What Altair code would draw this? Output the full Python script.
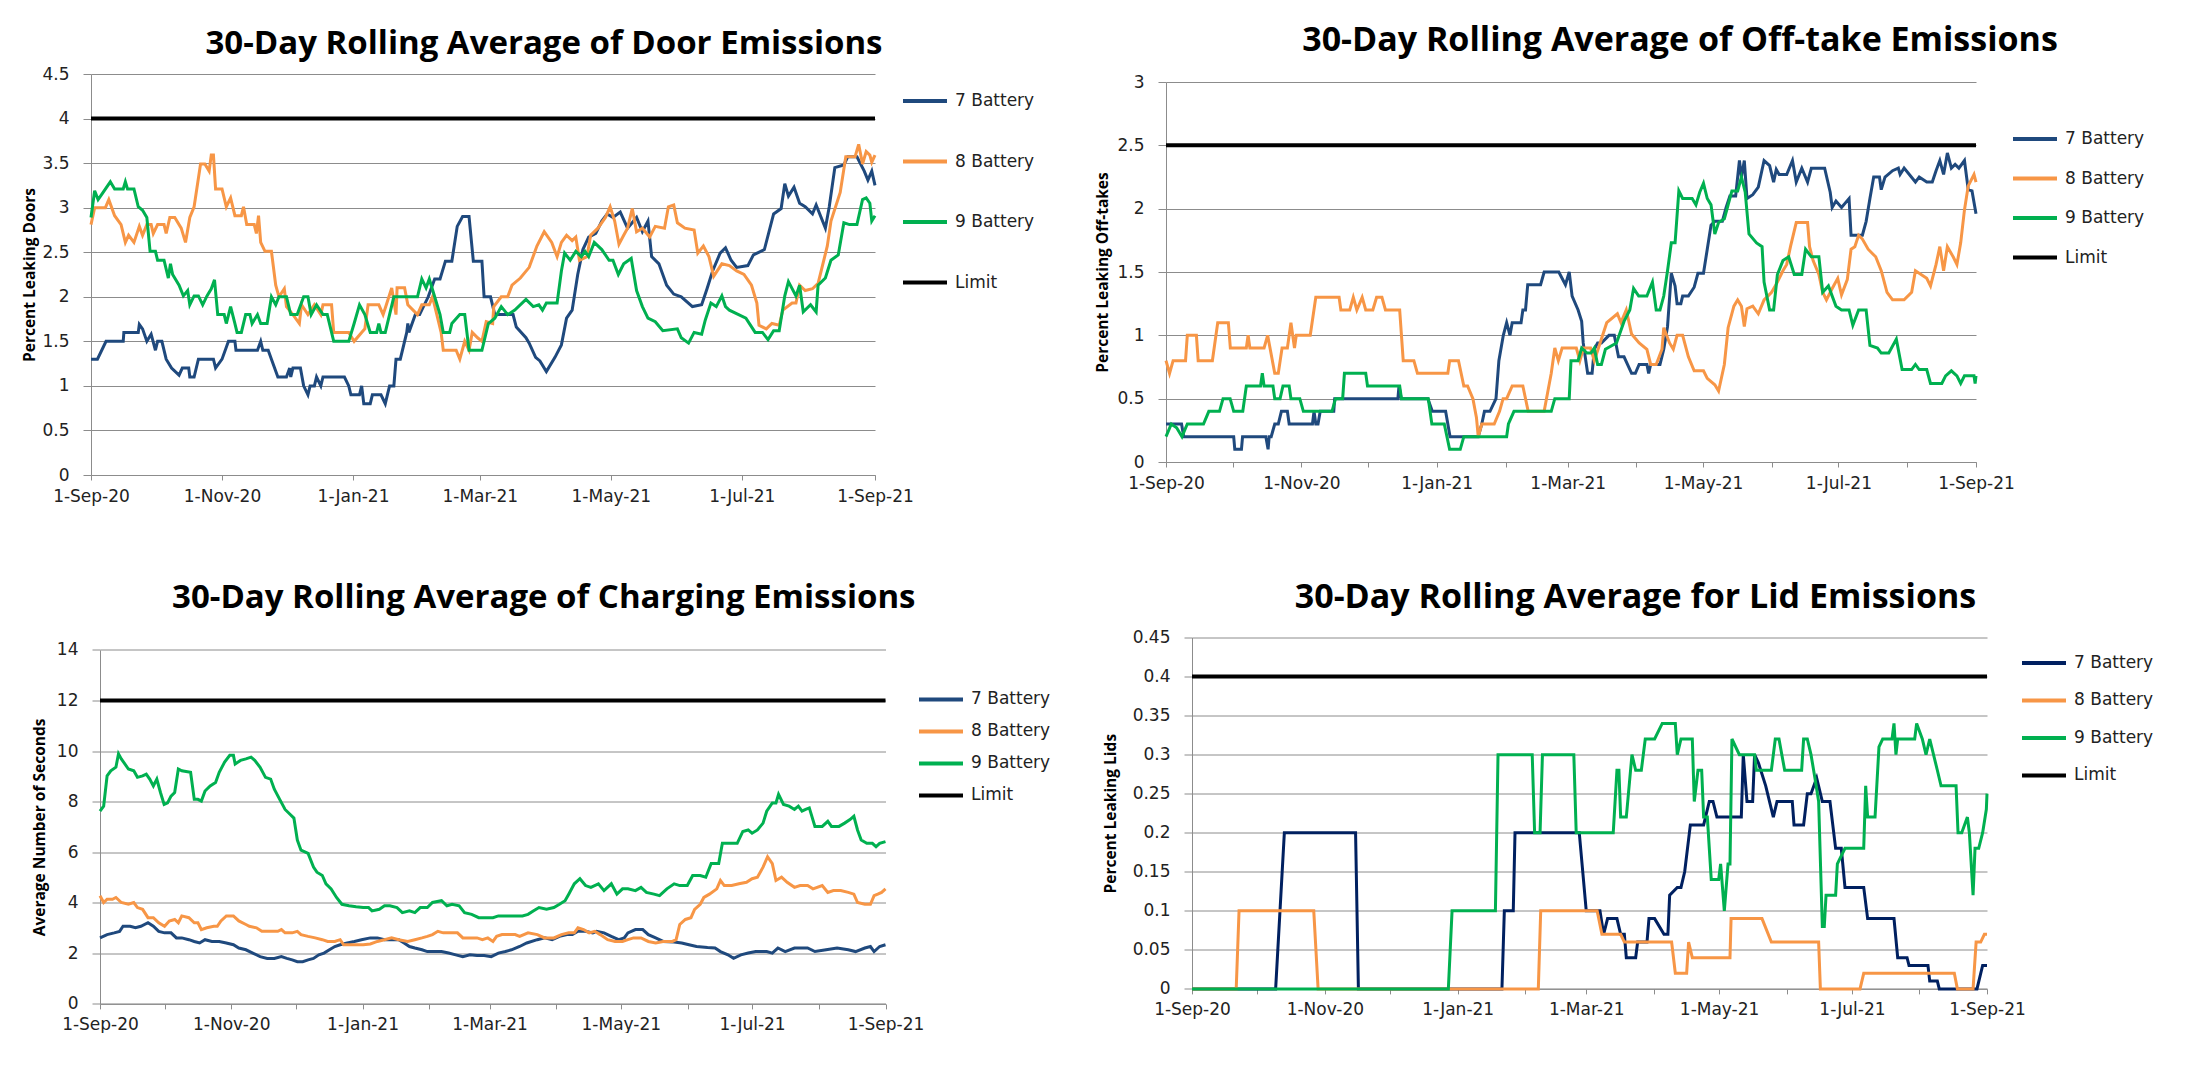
import altair as alt
import pandas as pd

# ---------------- data (day offset from 1-Sep-20, value) ----------------
SERIES = ["7 Battery", "8 Battery", "9 Battery", "Limit"]

DOOR_7 = [(0,1.3),(3,1.3),(7,1.5),(15,1.5),(15.3,1.6),(22,1.6),(22.5,1.69),(24,1.64),(26,1.5),(28,1.58),(30,1.4),(31,1.5),(33,1.5),(35,1.3),(37.5,1.2),(41,1.12),(42.5,1.2),(45.5,1.2),(46,1.1),(48,1.1),(50,1.3),(57,1.3),(58,1.2),(61,1.3),(64,1.5),(67,1.5),(67.5,1.4),(77.5,1.4),(79,1.5),(80,1.4),(82.5,1.4),(84,1.3),(87,1.1),(91,1.1),(92.5,1.2),(93,1.1),(94,1.2),(97.5,1.2),(99,1.0),(101,0.9),(102,1.0),(104,1.0),(105,1.1),(107,1.0),(108,1.1),(118,1.1),(120,1.0),(121,0.9),(125,0.9),(126,1.0),(127,0.8),(130,0.8),(131,0.9),(135,0.9),(137,0.8),(139,1.0),(141,1.0),(142,1.3),(144,1.3),(147,1.6),(147.5,1.7),(148,1.6),(151,1.8),(153,1.8),(157,2.0),(160,2.2),(162.5,2.2),(165,2.4),(168,2.4),(170.5,2.79),(173,2.9),(176,2.9),(178,2.4),(182,2.4),(183,2.0),(186,2.0),(188,1.8),(194,1.8),(196.5,1.8),(198,1.66),(202.5,1.54),(204,1.48),(207,1.32),(209,1.28),(212,1.16),(216,1.32),(219,1.46),(221.4,1.76),(224,1.85),(226.6,2.25),(229,2.53),(231.7,2.67),(235,2.71),(237.8,2.85),(240.3,2.93),(243,2.89),(246.4,2.95),(249.8,2.77),(254,2.89),(256.7,2.73),(259.3,2.85),(261,2.45),(264.4,2.37),(268,2.13),(271.3,2.03),(274.8,2.0),(280,1.89),(284.3,1.91),(286.8,2.09),(289.4,2.29),(292.9,2.49),(295.4,2.55),(298,2.41),(300.6,2.33),(305.8,2.35),(308.4,2.47),(313.5,2.53),(317.8,2.93),(321.3,2.99),(323,3.27),(324.7,3.13),(327.3,3.23),(329.9,3.05),(332.5,3.01),(335.9,2.93),(337.6,3.03),(341.9,2.77),(343.7,3.01),(346.3,3.45),(350.5,3.48),(352.3,3.57),(356.6,3.57),(360,3.41),(361.7,3.31),(363.5,3.41),(365,3.25)]
DOOR_8 = [(0,2.81),(1.7,3.0),(6.7,3.0),(8.3,3.09),(11,2.91),(14,2.81),(16,2.61),(17.5,2.69),(20,2.61),(22.5,2.79),(24,2.69),(26,2.81),(28,2.81),(29,2.71),(31,2.81),(34,2.81),(35,2.71),(36.7,2.89),(39,2.89),(42,2.77),(44,2.61),(46,2.89),(48,3.01),(51,3.49),(53,3.49),(55,3.41),(56,3.59),(57,3.59),(58,3.21),(61,3.21),(63,3.01),(65,3.11),(67,2.91),(70,2.91),(71,3.01),(72.5,2.81),(76,2.81),(77,2.71),(78,2.91),(79,2.61),(81,2.51),(84,2.51),(86,2.13),(87.5,2.0),(90,2.09),(91,1.89),(94,1.8),(97,1.7),(98,1.91),(101,1.8),(104,1.91),(107,1.8),(108,1.91),(112,1.91),(113,1.6),(120,1.6),(122.5,1.5),(126,1.6),(127.5,1.64),(129,1.91),(134,1.91),(136,1.8),(137.5,1.91),(140,2.1),(142,1.8),(142.5,2.1),(146,2.1),(147.5,1.91),(152,1.8),(154,1.91),(157.5,1.91),(159,2.0),(161,1.8),(163,1.6),(164,1.4),(170,1.4),(171.7,1.3),(174,1.5),(176,1.4),(177.5,1.6),(180,1.54),(182,1.5),(184,1.72),(187,1.7),(187.5,1.89),(191,2.0),(194,2.0),(196,2.13),(199.9,2.21),(204,2.33),(207.6,2.57),(211,2.73),(214.5,2.61),(217,2.45),(219,2.61),(221.4,2.69),(224,2.63),(225.7,2.67),(227.4,2.41),(230.9,2.45),(232.6,2.69),(236,2.77),(239.5,2.89),(241.7,3.01),(243.8,2.85),(245.8,2.59),(248,2.69),(249.8,2.77),(252,2.99),(254,2.73),(256.7,2.77),(260.1,2.67),(262.7,2.79),(267,2.77),(268.8,3.01),(271.3,3.03),(273,2.83),(276.5,2.77),(280.8,2.75),(282.5,2.49),(285.1,2.57),(287.7,2.45),(289.9,2.23),(293.7,2.37),(297.2,2.35),(300.6,2.29),(304,2.25),(307.5,2.13),(310,1.93),(311,1.68),(314.4,1.64),(317,1.7),(320.4,1.68),(322.1,1.85),(326.4,1.93),(328.2,1.93),(329.9,2.13),(332.5,2.07),(335.9,2.09),(338.5,2.15),(342.8,2.57),(344.5,2.85),(348.8,3.17),(351.4,3.57),(355.7,3.57),(357.4,3.71),(359.2,3.49),(360.9,3.63),(362.6,3.59),(363.5,3.51),(365,3.59)]
DOOR_9 = [(0,2.89),(1.7,3.19),(3.3,3.09),(5,3.15),(9,3.29),(11,3.21),(15,3.21),(16,3.29),(17,3.21),(20,3.21),(22,3.01),(24,2.97),(26,2.89),(27.5,2.51),(30,2.51),(31,2.41),(34,2.41),(36,2.21),(37,2.37),(38,2.25),(41,2.13),(43,2.01),(45,2.07),(46,1.91),(48,2.01),(50,2.01),(52,1.91),(54,2.01),(56,2.09),(57.5,2.19),(59,1.8),(62,1.8),(63,1.7),(65,1.89),(67,1.7),(68,1.6),(70,1.6),(72,1.8),(74,1.8),(75,1.7),(77.5,1.8),(79,1.7),(82,1.7),(84,2.0),(86,1.91),(87.5,2.0),(91,2.0),(93,1.8),(96,1.8),(99,2.0),(101,2.0),(102.5,1.8),(105,1.91),(108,1.8),(110,1.8),(113,1.5),(120,1.5),(122.5,1.7),(125,1.91),(127.5,1.8),(130,1.6),(133,1.6),(134,1.7),(135,1.6),(137,1.6),(139,1.8),(141,2.0),(152,2.0),(154,2.2),(156,2.1),(157.5,2.2),(160,2.0),(162.5,1.8),(164,1.6),(167,1.6),(168,1.7),(171.7,1.8),(174,1.8),(176,1.4),(182,1.4),(185,1.7),(188,1.76),(191,1.89),(194,1.8),(197.3,1.85),(202.5,1.97),(205.9,1.89),(208.5,1.91),(210.2,1.85),(212,1.93),(217,1.93),(219,2.29),(220.5,2.49),(223.1,2.41),(225.7,2.51),(228.3,2.45),(230,2.51),(231.7,2.45),(234.3,2.61),(237.8,2.53),(241.2,2.41),(243,2.41),(245.5,2.25),(248,2.37),(251.5,2.43),(254,2.07),(256.7,1.89),(259.3,1.76),(262.7,1.72),(266.2,1.62),(273,1.64),(274.8,1.54),(278.2,1.48),(280.8,1.6),(284.3,1.58),(286,1.74),(288.6,1.93),(291.1,1.89),(293.7,2.01),(295.4,1.89),(297.2,1.85),(301.5,1.8),(304.9,1.76),(309.2,1.6),(312.6,1.6),(315.2,1.52),(317.8,1.62),(320.4,1.62),(323,2.01),(324.7,2.17),(328.2,2.01),(329.9,2.13),(331.6,1.83),(335,1.91),(337.6,1.83),(338.5,2.13),(341.9,2.21),(344.5,2.41),(347.9,2.47),(350.5,2.83),(353.1,2.81),(356.6,2.81),(359.2,3.09),(360.9,3.11),(362.6,3.05),(363.5,2.85),(365,2.91)]
DOOR_LIMIT = 4.0

OFF_7 = [(0,0.3),(7,0.3),(8,0.2),(30.5,0.2),(31,0.1),(34,0.1),(34.5,0.2),(45,0.2),(46,0.1),(46.5,0.2),(47.4,0.2),(49,0.3),(50.6,0.3),(52,0.4),(54.7,0.4),(55.5,0.3),(66,0.3),(66.7,0.4),(67.5,0.3),(68.5,0.3),(69.5,0.4),(75.6,0.4),(76,0.5),(104.5,0.5),(105,0.6),(106,0.5),(118,0.5),(120,0.4),(126,0.4),(128,0.2),(140.7,0.2),(142.3,0.3),(143.5,0.4),(146,0.4),(148.7,0.5),(150,0.8),(152,1.0),(153.5,1.1),(155,1.0),(156,1.1),(160,1.1),(160.8,1.2),(162,1.2),(163,1.4),(168.8,1.4),(170.4,1.5),(177,1.5),(180,1.4),(181.7,1.5),(183,1.31),(185.7,1.2),(187.3,1.11),(188,0.94),(190,0.7),(192,0.7),(193,0.89),(194.5,0.94),(196.2,0.94),(199.6,1.0),(202,1.0),(203.9,0.83),(206.4,0.83),(209.8,0.7),(211.5,0.7),(213.2,0.77),(216.7,0.77),(217.5,0.7),(218.4,0.77),(222.6,0.77),(224.3,0.89),(226,1.07),(227.7,1.49),(229.4,1.39),(230.3,1.25),(232,1.25),(232.8,1.31),(235.4,1.31),(238,1.38),(239.7,1.49),(242.2,1.49),(243.9,1.68),(245.6,1.87),(247.3,1.9),(250.7,1.9),(252.4,2.01),(254.1,2.1),(256.7,2.1),(258.4,2.38),(259.3,2.25),(260.6,2.38),(261.8,2.08),(264.4,2.11),(266.9,2.17),(269.5,2.38),(272,2.34),(273.8,2.21),(275,2.31),(276.3,2.27),(279.7,2.27),(282.3,2.38),(284,2.21),(286.5,2.32),(289.1,2.21),(290.8,2.32),(296.8,2.32),(299.3,2.13),(300.2,2.01),(301.9,2.06),(304.4,2.01),(307.8,2.08),(308.7,1.79),(313.8,1.79),(315.5,1.9),(317.2,2.08),(318.9,2.25),(321.5,2.25),(322.3,2.15),(324,2.25),(327.4,2.3),(330,2.32),(330.8,2.27),(332.6,2.32),(337.7,2.21),(339.4,2.25),(342.8,2.21),(345.3,2.21),(347,2.3),(348.7,2.38),(350.4,2.27),(352.1,2.44),(353.9,2.32),(355.6,2.35),(357.3,2.32),(359.8,2.38),(361.5,2.15),(363.2,2.14),(365,1.96)]
OFF_8 = [(0,0.8),(1.6,0.7),(3.2,0.8),(8.8,0.8),(9.6,1.0),(13.7,1.0),(14.5,0.8),(20.9,0.8),(23.3,1.1),(28.1,1.1),(29,0.9),(36.2,0.9),(37,1.0),(37.8,0.9),(44.2,0.9),(45.8,1.0),(49,0.7),(50.6,0.7),(52.3,0.9),(54.7,0.9),(56.3,1.1),(57.9,0.9),(58.7,1.0),(65,1.0),(67.5,1.3),(78,1.3),(78.8,1.2),(82.8,1.2),(84.4,1.3),(86,1.2),(88.4,1.3),(90,1.2),(93.2,1.2),(94.9,1.3),(97.3,1.3),(98.9,1.2),(105.3,1.2),(106.9,0.8),(111.7,0.8),(113.3,0.7),(127,0.7),(127.8,0.8),(131.8,0.8),(134.2,0.6),(135.9,0.6),(138.3,0.5),(139.9,0.35),(140.7,0.2),(142.3,0.3),(147.9,0.3),(150.3,0.4),(151.9,0.5),(153.5,0.5),(156,0.6),(160.8,0.6),(163.2,0.4),(170.4,0.4),(173.6,0.7),(175.2,0.9),(176.8,0.8),(178.5,0.9),(184.9,0.9),(186.5,0.8),(188.1,0.9),(191.3,0.9),(193,0.8),(198.6,1.1),(203.4,1.17),(205,1.1),(207.4,1.2),(209.8,1.01),(213.2,0.94),(216.7,0.89),(218.4,0.77),(220.9,0.77),(223.5,0.89),(224.3,1.06),(226.9,0.94),(228.6,0.89),(230.3,1.0),(232.8,1.0),(235.4,0.83),(238,0.72),(242.2,0.72),(243.9,0.66),(247.3,0.61),(249,0.56),(251.6,0.77),(253.3,1.06),(255.9,1.23),(257.6,1.28),(259.3,1.23),(260.6,1.07),(261.8,1.21),(264.4,1.23),(266.9,1.17),(269.5,1.28),(272.9,1.34),(275.5,1.42),(278,1.51),(279.7,1.56),(281.4,1.7),(284,1.89),(289.1,1.89),(290,1.7),(291.6,1.59),(294.2,1.48),(295.9,1.34),(297.6,1.28),(300.2,1.37),(302.7,1.45),(304.4,1.32),(307,1.44),(308.7,1.68),(310.4,1.7),(312.1,1.79),(313.8,1.76),(316.4,1.68),(319.8,1.62),(322.3,1.51),(324.9,1.34),(327.4,1.28),(332.6,1.28),(336,1.34),(337.7,1.51),(342.8,1.45),(344.5,1.39),(347,1.56),(348.7,1.7),(350.4,1.51),(352.1,1.7),(354.7,1.62),(356.4,1.56),(358.1,1.73),(359.8,1.99),(361.5,2.18),(364.1,2.27),(365,2.21)]
OFF_9 = [(0,0.2),(2.4,0.3),(4.8,0.27),(7.2,0.2),(9.6,0.3),(16.9,0.3),(19.3,0.4),(24.1,0.4),(25.7,0.5),(28.9,0.5),(30.5,0.4),(34.6,0.4),(36.2,0.6),(42.6,0.6),(43.4,0.7),(44.2,0.6),(48.2,0.6),(49,0.5),(51.4,0.5),(52.7,0.6),(55.5,0.6),(56.3,0.5),(60.3,0.5),(61.9,0.4),(74.8,0.4),(76.4,0.5),(79.6,0.5),(80.4,0.7),(90,0.7),(90.8,0.6),(105.3,0.6),(106.1,0.5),(118.2,0.5),(119.8,0.3),(125.4,0.3),(127.8,0.1),(132.6,0.1),(134.2,0.2),(153.5,0.2),(154.3,0.3),(156.8,0.4),(173.6,0.4),(175.2,0.5),(181.7,0.5),(182.5,0.8),(185.7,0.8),(187.3,0.9),(189.7,0.86),(191.5,0.86),(193,0.9),(194.5,0.77),(196.2,0.77),(198,0.89),(203,0.94),(206.4,1.11),(209,1.2),(210.7,1.37),(213,1.31),(216.7,1.31),(219.2,1.42),(220.9,1.2),(222.6,1.2),(224.3,1.31),(226,1.51),(227.7,1.73),(229.4,1.73),(231.1,2.14),(232.8,2.08),(237.1,2.08),(238.8,2.03),(240.5,2.13),(242.2,2.2),(243.9,2.08),(245.6,2.03),(247.3,1.8),(249,1.89),(251.6,1.92),(253.3,2.03),(255,2.14),(257.6,2.14),(259.3,2.25),(261,2.13),(262.7,1.8),(266.1,1.73),(268.6,1.7),(269.5,1.42),(272,1.2),(273.8,1.2),(275.5,1.48),(278,1.59),(280.6,1.62),(283.1,1.48),(286.5,1.48),(288.2,1.68),(290.8,1.62),(294.2,1.62),(295.9,1.34),(298.5,1.39),(301.9,1.23),(304.4,1.2),(307.8,1.2),(309.5,1.08),(312.1,1.2),(315.5,1.2),(317.2,0.92),(320.6,0.9),(322.3,0.86),(325.7,0.86),(329.1,0.97),(331.7,0.73),(336,0.73),(337.7,0.77),(339.4,0.73),(342.8,0.73),(344.5,0.62),(349.6,0.62),(351.3,0.68),(353.9,0.72),(356.4,0.68),(358.1,0.62),(359.8,0.68),(364.1,0.68),(364.6,0.62),(365,0.68)]
OFF_LIMIT = 2.5

CHG_7 = [(0,2.61),(3.3,2.74),(6.6,2.81),(9.1,2.87),(10.7,3.07),(14,3.07),(16.5,3.01),(19,3.07),(22.3,3.21),(24.8,3.07),(27.3,2.87),(30,2.81),(33,2.81),(35.5,2.61),(38,2.61),(41.3,2.54),(43.8,2.47),(46.3,2.41),(48.8,2.54),(52,2.47),(55.4,2.47),(58.7,2.41),(62,2.34),(64.5,2.21),(67.8,2.14),(71,2.01),(74.4,1.87),(77.7,1.8),(81,1.8),(84.3,1.87),(86.8,1.8),(89.3,1.74),(91.7,1.67),(94.2,1.67),(96.7,1.74),(99.2,1.8),(101.7,1.94),(104.1,2.01),(106.6,2.14),(109.1,2.27),(111.6,2.34),(114.9,2.41),(118.2,2.47),(121.5,2.54),(125.6,2.61),(128.9,2.61),(132.2,2.54),(135.5,2.54),(138.8,2.54),(141.3,2.41),(143.8,2.27),(146.3,2.21),(149.6,2.14),(152.1,2.07),(155.4,2.07),(158.7,2.07),(162,2.01),(165.3,1.94),(168.6,1.87),(171.9,1.94),(175.2,1.91),(178.5,1.91),(181.8,1.87),(185.1,2.01),(188.4,2.07),(191.2,2.14),(195,2.27),(198.3,2.41),(203.2,2.54),(206.6,2.61),(210.1,2.54),(213.5,2.67),(217,2.74),(219.5,2.74),(222.1,2.87),(225.6,2.87),(229,2.81),(230.7,2.87),(234.2,2.81),(237.6,2.67),(241,2.54),(243.6,2.61),(245.3,2.81),(248.8,2.94),(252.2,2.94),(254.8,2.74),(258.2,2.61),(261.7,2.47),(266.8,2.45),(270.3,2.41),(273.7,2.34),(277.2,2.27),(282.3,2.23),(285.8,2.21),(288.3,2.07),(291.8,1.94),(294.4,1.8),(297.8,1.94),(301.2,2.01),(304.7,2.07),(309.8,2.07),(312.4,2.01),(315,2.21),(318.4,2.07),(322.7,2.21),(328.8,2.21),(332.2,2.07),(337.4,2.14),(342.5,2.21),(347.7,2.14),(351.1,2.07),(355.4,2.21),(358,2.27),(359.7,2.07),(362.3,2.27),(365,2.34)]
CHG_8 = [(0,4.28),(1.7,4.01),(3.3,4.14),(5.8,4.14),(7.4,4.21),(9.9,4.01),(13.2,3.94),(15.7,4.01),(17.4,3.81),(19.8,3.74),(22.3,3.41),(24.8,3.41),(27.3,3.21),(30,3.07),(32.2,3.28),(34.7,3.34),(36.4,3.21),(38,3.48),(41.3,3.41),(43.8,3.21),(45.5,3.21),(47.1,2.94),(49.6,3.01),(52.9,3.07),(54.5,3.07),(56.2,3.28),(58.7,3.48),(62,3.48),(64.5,3.28),(67.8,3.14),(69.4,3.07),(72.7,3.01),(75.2,2.87),(79.3,2.87),(82.6,2.87),(84.3,2.94),(86,2.81),(89.3,2.81),(91.7,2.87),(93.4,2.74),(96.7,2.67),(100,2.61),(103.3,2.54),(105.8,2.47),(109.1,2.47),(111.6,2.54),(113.2,2.34),(116.5,2.34),(119,2.34),(122.3,2.34),(125.6,2.37),(128.9,2.47),(132.2,2.54),(135.5,2.61),(138.8,2.54),(143,2.47),(146.3,2.54),(149.6,2.61),(152.1,2.67),(154.5,2.74),(157,2.87),(159.5,2.81),(162.8,2.81),(166.1,2.81),(168.6,2.61),(171.9,2.61),(175.2,2.61),(177.7,2.54),(180.2,2.61),(182.6,2.47),(184.3,2.67),(186.8,2.74),(190.1,2.74),(192.9,2.74),(195,2.67),(198.9,2.81),(203.2,2.74),(206.6,2.61),(210.9,2.61),(214.4,2.74),(217.8,2.81),(220.4,2.81),(222.1,3.01),(224.7,2.94),(227.3,2.81),(229.9,2.87),(232.4,2.74),(235.9,2.54),(239.3,2.47),(242.8,2.47),(245.3,2.54),(247.9,2.61),(251.4,2.61),(254.8,2.47),(258.2,2.41),(261.7,2.47),(266,2.47),(267.7,2.54),(269.4,3.14),(272,3.34),(274.6,3.41),(276.3,3.74),(278.9,3.94),(280.6,4.21),(283.2,4.34),(286.6,4.55),(288.3,4.88),(290.1,4.68),(293.5,4.68),(296.9,4.75),(300.4,4.81),(303,4.95),(305.5,5.01),(308.1,5.41),(310.2,5.82),(312.4,5.55),(314.1,4.88),(316.7,5.01),(319.3,4.81),(322.7,4.61),(325.3,4.68),(328.8,4.68),(331.3,4.55),(335.6,4.68),(338.2,4.41),(340.8,4.48),(344.2,4.48),(347.7,4.41),(350.3,4.34),(352,4.01),(355.4,3.94),(358,3.94),(359.7,4.28),(361.4,4.34),(363.2,4.41),(365,4.55)]
CHG_9 = [(0,7.62),(1.7,7.82),(3.3,9.02),(5,9.22),(7.4,9.36),(8.6,9.89),(9.9,9.69),(13.2,9.29),(15.7,9.22),(17.4,8.96),(19.8,9.02),(21.5,9.09),(23.1,8.89),(24.8,8.62),(26.4,8.89),(28.1,8.36),(29.8,7.89),(31.4,7.95),(33,8.22),(34.7,8.36),(36.4,9.29),(38,9.22),(42.1,9.16),(43.8,8.09),(45.5,8.09),(47.1,8.02),(48.8,8.42),(51.2,8.62),(53.7,8.76),(55.4,9.16),(57.9,9.56),(60.3,9.83),(62,9.83),(62.8,9.49),(65.3,9.63),(67.8,9.69),(70.2,9.76),(71.9,9.63),(74.4,9.36),(76.9,8.96),(79.3,8.89),(81,8.49),(83.5,8.09),(86,7.69),(88.4,7.49),(90.1,7.35),(91.7,6.48),(93.4,6.08),(96.7,5.95),(99.2,5.41),(100.8,5.21),(103.3,5.08),(105,4.75),(107.4,4.55),(109.9,4.21),(112.4,3.94),(115.7,3.88),(119,3.84),(122.3,3.81),(124.8,3.81),(126.4,3.68),(129.8,3.74),(132.2,3.88),(134.7,3.88),(138,3.81),(140.5,3.61),(143.8,3.68),(146.3,3.61),(148.8,3.81),(152.1,3.81),(154.5,4.01),(158.7,4.08),(161.2,3.88),(163.6,3.94),(166.9,3.88),(169.4,3.61),(172.7,3.54),(176,3.41),(180.2,3.41),(182.6,3.41),(185.1,3.48),(188.4,3.48),(192.9,3.48),(196.3,3.48),(198.9,3.54),(201.5,3.68),(204,3.81),(207.5,3.74),(210.9,3.81),(213.5,3.94),(216.1,4.08),(217.8,4.34),(220.4,4.75),(223,4.95),(225.6,4.68),(228.1,4.61),(231.6,4.75),(234.2,4.48),(237.6,4.75),(240.2,4.34),(242.8,4.55),(245.3,4.55),(248.8,4.48),(251.4,4.61),(253.9,4.41),(257.4,4.34),(260,4.28),(263.4,4.55),(266.8,4.75),(269.4,4.68),(272.9,4.68),(275.4,5.08),(278.9,5.08),(281.5,5.01),(284,5.55),(287.5,5.55),(289.2,6.35),(292.6,6.35),(296.1,6.35),(298.7,6.82),(301.2,6.88),(303,6.75),(305.5,6.88),(308.1,7.15),(309.8,7.62),(312.4,7.95),(314.1,7.95),(315.3,8.29),(317.6,7.89),(320.2,7.82),(322.7,7.69),(324.5,7.82),(326.2,7.62),(327.9,7.69),(329.6,7.75),(332.2,7.02),(335.6,7.02),(338.2,7.22),(339.9,7.02),(343.4,7.02),(346,7.15),(348.5,7.29),(350.3,7.42),(352,6.88),(353.7,6.48),(356.3,6.35),(358.9,6.35),(360.6,6.22),(362.3,6.35),(365,6.42)]
CHG_LIMIT = 12.0

LID_7 = [(0,0),(38.4,0),(42.4,0.2),(75.1,0.2),(76.4,0),(142.3,0),(143.4,0.1),(147.5,0.1),(148.3,0.2),(177.8,0.2),(181,0.1),(187.3,0.1),(189,0.07),(190.8,0.09),(195.1,0.09),(196.8,0.07),(198.5,0.07),(199.4,0.04),(203.7,0.04),(204.6,0.06),(208.9,0.06),(209.8,0.09),(212.4,0.09),(216.7,0.07),(218.5,0.07),(219.3,0.12),(222.8,0.13),(224.5,0.13),(226.2,0.15),(228.8,0.21),(234.9,0.21),(237.5,0.24),(239.2,0.24),(241,0.22),(252.2,0.22),(253.1,0.3),(254.8,0.24),(257.4,0.24),(258.3,0.3),(260,0.29),(263.4,0.26),(266.9,0.22),(268.6,0.24),(275.6,0.24),(276.4,0.21),(280.8,0.21),(282.5,0.25),(284.2,0.25),(286.8,0.27),(289.4,0.24),(292.9,0.24),(295.5,0.18),(298.1,0.18),(299.8,0.13),(308.4,0.13),(310.2,0.09),(322.3,0.09),(324,0.04),(328.3,0.04),(329.2,0.03),(337.9,0.03),(338.7,0.01),(342.2,0.01),(343.1,0),(360.4,0),(363,0.03),(365,0.03)]
LID_8 = [(0,0),(20.3,0),(21.6,0.1),(55.9,0.1),(57.9,0),(159,0),(160.1,0.1),(186,0.1),(188.2,0.07),(196.8,0.07),(198.5,0.06),(220.2,0.06),(221.9,0.02),(227.1,0.02),(228,0.06),(229.7,0.04),(247,0.04),(247.5,0.09),(261.7,0.09),(266,0.06),(287.7,0.06),(288.5,0),(306.7,0),(308.4,0.02),(350,0.02),(351.4,0),(358.6,0),(360,0.06),(362.1,0.06),(363.8,0.07),(365,0.07)]
LID_9 = [(0,0),(117.7,0),(119.4,0.1),(139.3,0.1),(140.5,0.3),(156.2,0.3),(157.3,0.2),(159.8,0.2),(160.9,0.3),(175.3,0.3),(176.4,0.2),(193.4,0.2),(195.1,0.28),(196,0.28),(196.8,0.22),(199.4,0.22),(202,0.3),(203.7,0.28),(206.3,0.28),(208.1,0.32),(212.4,0.32),(215.9,0.34),(221.9,0.34),(222.8,0.3),(224.5,0.32),(229.7,0.32),(230.6,0.24),(232.3,0.28),(234,0.28),(234.9,0.22),(236.6,0.22),(238.4,0.14),(241.8,0.14),(242.7,0.16),(244.4,0.1),(246.1,0.16),(247,0.16),(247.9,0.32),(251.3,0.3),(258.3,0.3),(259.1,0.28),(266,0.28),(267.8,0.32),(269.5,0.32),(272.1,0.28),(279.9,0.28),(280.8,0.32),(282.5,0.32),(284.2,0.3),(286,0.27),(287.7,0.24),(289.4,0.08),(290.3,0.08),(291.1,0.12),(295.5,0.12),(296.3,0.16),(299.8,0.18),(308.4,0.18),(309.3,0.26),(310.2,0.22),(313.6,0.22),(315.4,0.31),(317.1,0.32),(321.4,0.32),(322.3,0.34),(323.2,0.3),(324,0.32),(331.8,0.32),(332.7,0.34),(335.3,0.32),(337,0.3),(338.7,0.32),(342.2,0.28),(343.9,0.26),(350.8,0.26),(351.7,0.2),(353.4,0.2),(356,0.22),(356.9,0.2),(358.6,0.12),(359.5,0.18),(361.2,0.18),(363,0.2),(364.7,0.23),(365,0.25)]
LID_LIMIT = 0.4

# ---------------- helpers ----------------
DAY_MS = 86400000
BASE_MS = int(pd.Timestamp("2020-09-01", tz="UTC").value // 10**6)
END_MS = BASE_MS + 365 * DAY_MS
MONTHS = [int(t.value // 10**6) for t in pd.date_range("2020-09-01", "2021-09-01", freq="MS", tz="UTC")]

GRID = "#8c8c8c"
TXT = "#222222"
STD_COLORS = ["#1F497D", "#F79646", "#00B050", "#000000"]
LID_COLORS = ["#002060", "#F79646", "#00B050", "#000000"]
TITLE_FONT = "Open Sans"


def series_df(s7, s8, s9):
    rows = []
    for name, pts in zip(SERIES[:3], (s7, s8, s9)):
        for i, (d, v) in enumerate(pts):
            rows.append({"t": BASE_MS + int(round(d * DAY_MS)), "value": v, "series": name, "i": i})
    return pd.DataFrame(rows)


def limit_df(limit):
    return pd.DataFrame({"t": [BASE_MS, END_MS], "value": [limit, limit], "series": ["Limit", "Limit"], "i": [0, 1]})


def panel(s7, s8, s9, limit, title, ytitle, ymax, ystep, w, h, colors, title_size, title_dx, title_dy,
          title_x, min_ext, leg_x, leg_y, row_pad, tick_every=1, x0=0, y0=0):
    yvals = [round(k * ystep, 4) for k in range(int(round(ymax / ystep)) + 1)]
    xaxis = alt.Axis(
        values=MONTHS[::tick_every],
        labelExpr="utcmonth(datum.value) % 2 == 0 ? utcFormat(datum.value, '%-d-%b-%y') : ''",
        grid=False, tickSize=5, labelPadding=8, tickColor=GRID, domainColor=GRID,
        labelFont="DejaVu Sans", labelFontSize=17, labelColor=TXT,
        labelOverlap=False, labelFlush=False, title=None,
    )
    yaxis = alt.Axis(
        values=yvals, format="~g", grid=True, gridColor=GRID, domainColor=GRID, tickColor=GRID,
        tickSize=8, labelPadding=14, labelFont="DejaVu Sans", labelFontSize=17, labelColor=TXT,
        title=ytitle, titleFont=TITLE_FONT, titleFontSize=15.5, titleFontWeight="bold", titleColor="black",
        titleAngle=270, titleAlign="center", titleBaseline="middle", titleX=title_x, titleY=(h + y0) / 2,
        titleLimit=1000, minExtent=min_ext, maxExtent=min_ext, offset=-x0,
    )
    x = alt.X("t:T", scale=alt.Scale(type="utc", domain=[BASE_MS, END_MS], nice=False, range=[x0, w]),
              axis=xaxis)
    y = alt.Y("value:Q", scale=alt.Scale(domain=[0, ymax], nice=False, range=[h, y0]), axis=yaxis)
    color = alt.Color(
        "series:N",
        scale=alt.Scale(domain=SERIES, range=colors),
        legend=alt.Legend(
            title=None, orient="none", legendX=leg_x, legendY=leg_y, symbolType="stroke",
            symbolSize=44 * 44, symbolStrokeWidth=4, labelFont="DejaVu Sans", labelFontSize=17,
            labelColor=TXT, labelOffset=6, rowPadding=row_pad, padding=0,
        ),
    )
    lines = alt.Chart(series_df(s7, s8, s9)).mark_line(strokeWidth=3).encode(
        x=x, y=y, color=color, order=alt.Order("i:Q"))
    lim = alt.Chart(limit_df(limit)).mark_line(strokeWidth=4).encode(
        x=x, y=y, color=color, order=alt.Order("i:Q"))
    return alt.layer(lim, lines).properties(
        width=w, height=h,
        title=alt.TitleParams(text=title, font=TITLE_FONT, fontSize=title_size, fontWeight="bold",
                              color="black", anchor="middle", dx=title_dx, dy=title_dy, offset=0,
                              baseline="alphabetic"),
    )


# origins: P1 (91,74)  P2 (1166,74)  P3 (91,637.6)  P4 (1192,637.6)
p1 = panel(DOOR_7, DOOR_8, DOOR_9, DOOR_LIMIT, "30-Day Rolling Average of Door Emissions",
           "Percent Leaking Doors", 4.5, 0.5, 784, 401, STD_COLORS, 33, 61, 21.5, -62, 83, 810, 3, 28.5,
           tick_every=2)
p2 = panel(OFF_7, OFF_8, OFF_9, OFF_LIMIT, "30-Day Rolling Average of Off-take Emissions",
           "Percent Leaking Off-takes", 3, 0.5, 810, 388, STD_COLORS, 34, 109, 11.7, -64, 73, 845, 41, 7.5,
           y0=8)
p3 = panel(CHG_7, CHG_8, CHG_9, CHG_LIMIT, "30-Day Rolling Average of Charging Emissions",
           "Average Number of Seconds", 14, 2, 794.5, 366.4, STD_COLORS, 33, 55.5, 3.8, -61, 80, 826, 37.9, 0,
           x0=9, y0=12.4)
p4 = panel(LID_7, LID_8, LID_9, LID_LIMIT, "30-Day Rolling Average for Lid Emissions",
           "Percent Leaking Lids", 0.45, 0.05, 795, 351.4, LID_COLORS, 34, 46, 13.8, -82, 91, 828, 1.4, 5.5)

row1 = alt.hconcat(p1, p2, spacing=58).resolve_scale(color="independent").resolve_legend(color="independent")
row2 = alt.hconcat(p3, p4, spacing=50).resolve_scale(color="independent").resolve_legend(color="independent")

chart = (
    alt.vconcat(row1, row2, spacing=76.5)
    .resolve_scale(color="independent")
    .resolve_legend(color="independent")
    .properties(padding={"left": 0, "top": 15, "right": 0, "bottom": 0}, background="white")
    .configure_view(strokeWidth=0)
)

chart.save("out.html", embed_options={"renderer": "svg", "actions": False})
